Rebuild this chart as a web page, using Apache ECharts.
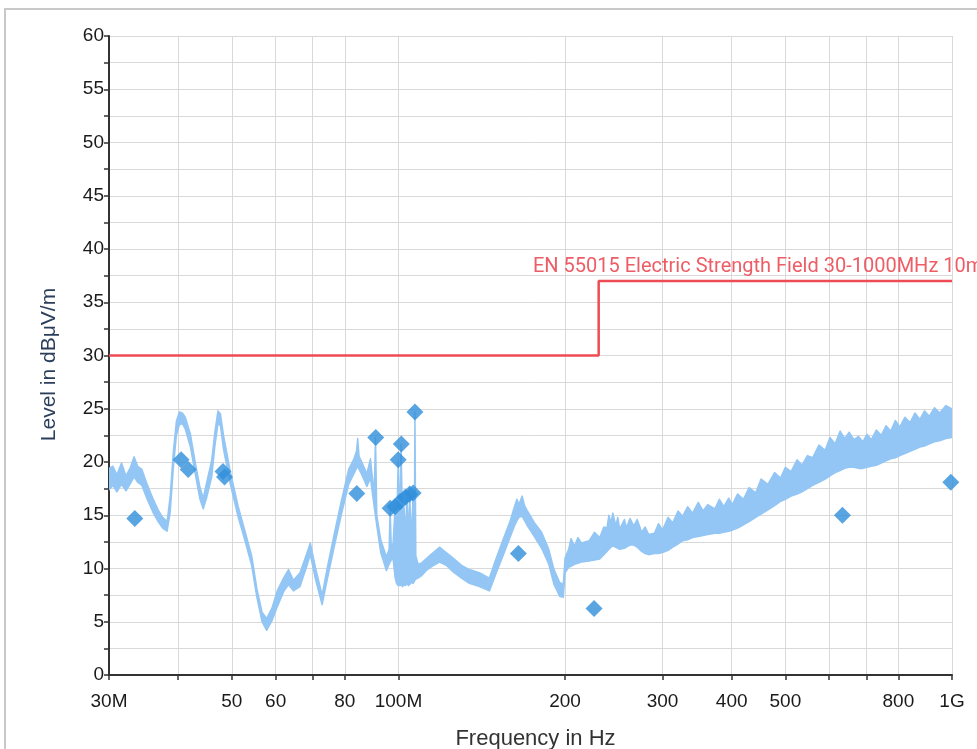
<!DOCTYPE html>
<html>
<head>
<meta charset="utf-8">
<script src="https://cdn.jsdelivr.net/npm/echarts@6/dist/echarts.min.js"></script>
<style>
html,body{margin:0;padding:0;background:#fff;}
#chart{width:977px;height:749px;}
</style>
</head>
<body>
<div id="chart"></div>
<script>
// Measured trace (MHz) with lower / upper envelope in dBµV/m
var traceFreq = [30,30.5,31,31.6,32.2,32.8,33.3,33.8,34.4,35.1,36.0,36.8,37.5,38.2,38.7,39.2,39.7,40.2,40.7,41.2,42.1,42.9,43.8,44.4,45.0,46.0,46.6,47.2,47.7,48.3,49.7,51.3,52.7,54.3,55.5,56.7,57.8,59.1,60.4,62.0,63.3,64.6,66.4,68.3,69.3,70.8,72.8,74.4,76.6,78.9,81.3,83.1,84.0,84.4,84.9,85.7,87.7,89.0,90.4,90.9,91.4,92.9,95.1,96.2,96.6,97.1,97.8,98.6,99.2,99.9,100.5,101.1,101.7,102.3,102.9,103.6,104.2,104.8,105.5,106.3,106.8,107.1,107.5,108.5,110,112.2,115,118.6,122,125.4,130,134.3,140,146,150,154.5,159,162,163.7,165,167.3,169,171,176,181.4,186.9,191,195.5,198.5,
  200,203,205,208,211,214,221,226,231,235,238,240,242,244,247,249,251,256,258,262,266,270,275,279,283,290,295,300,307,313,320,326,333,340,348,355,362,373,380,387,395,401,410,420,430,442,452,465,478,490,500,512,525,536,548,560,575,590,602,615,628,640,652,665,678,690,702,715,730,745,760,775,790,805,822,840,857,875,892,910,930,950,975,1000];
var traceLow = [17.4,17.8,17.2,17.9,17.3,18.0,18.6,18.1,17.8,16.6,15.3,14.4,13.8,13.5,15.3,19.4,22.5,23.5,23.6,23.1,21.4,19.0,16.5,15.6,16.6,18.6,21.5,23.6,23.4,21.2,17.9,14.9,12.8,10.3,7.3,5.0,4.2,5.1,6.4,7.8,8.5,7.9,8.3,10.2,11.3,9.0,6.6,9.0,12.1,15.1,17.9,18.9,19.4,19.6,19.3,18.9,17.7,18.5,15.8,14.9,14.0,11.5,9.8,10.4,10.6,10.8,10.9,9.2,8.6,8.4,8.4,8.5,8.3,8.5,8.4,8.6,8.4,8.5,8.7,8.6,8.8,8.9,9.0,9.1,9.3,9.8,10.2,10.6,10.3,9.7,9.1,8.6,8.3,7.9,9.5,11.2,12.9,14.0,14.5,14.8,14.9,14.5,14.0,13.0,11.9,10.4,8.5,7.4,7.3,
  9.6,10.1,10.2,10.4,10.5,10.6,10.7,10.8,10.9,11.3,11.6,11.8,12.0,12.1,12.0,11.9,11.8,11.9,12.0,12.2,12.2,12.0,11.6,11.4,11.3,11.4,11.4,11.5,11.7,12.0,12.3,12.6,12.7,12.9,13.0,13.1,13.2,13.3,13.3,13.4,13.5,13.6,13.8,14.1,14.4,14.8,15.1,15.5,15.9,16.3,16.5,16.8,17.0,17.2,17.5,17.8,18.1,18.4,18.7,19.0,19.2,19.4,19.5,19.5,19.4,19.4,19.5,19.6,19.7,19.9,20.1,20.3,20.4,20.6,20.8,21.0,21.2,21.4,21.5,21.7,21.9,22.0,22.2,22.3];
var traceHigh = [19.4,19.6,18.8,19.9,18.7,19.5,20.5,19.6,19.3,18.0,16.6,15.5,14.8,14.4,16.8,20.9,23.8,24.7,24.6,24.2,22.6,20.1,17.6,16.6,18.0,20.2,22.8,24.8,24.5,22.5,19.1,15.9,13.7,11.2,8.1,5.9,5.3,6.3,7.9,9.1,9.9,8.9,9.6,11.4,12.4,10.1,7.5,10.1,13.3,16.4,19.3,20.3,21.0,22.2,20.5,20.1,18.9,20.3,17.0,22.3,15.0,12.7,11.1,11.8,15.6,11.8,12.4,15.8,13.5,20.1,14.0,21.7,14.5,16.0,13.2,16.7,13.0,17.0,12.5,17.1,12.0,24.7,11.2,10.4,10.5,10.9,11.4,12.0,11.5,11.0,10.3,9.9,9.6,9.1,10.9,12.7,14.4,15.8,16.5,16.0,16.8,15.9,15.4,14.3,13.4,11.8,9.9,8.7,8.5,
  11.0,11.8,12.8,12.1,12.9,12.4,12.6,13.4,12.9,13.9,13.8,15.0,14.3,15.2,14.0,14.8,13.7,14.6,13.8,14.7,14.0,14.6,13.4,13.9,13.2,13.3,14.2,13.6,14.8,14.3,15.4,14.9,15.8,15.2,16.2,15.4,16.0,15.6,16.5,15.8,16.6,16.0,17.0,16.5,17.6,17.1,18.4,17.9,19.0,18.5,19.5,19.1,20.2,19.7,20.6,20.4,21.6,21.1,22.3,21.7,22.9,22.2,22.8,22.1,22.4,21.9,22.6,22.1,23.0,22.5,23.4,22.9,23.9,23.3,24.2,23.7,24.6,24.0,24.8,24.3,25.1,24.6,25.3,25.0];

// Final measurement points (QP)
var peakFreq  = [33.4,40.5,41.7,48.2,48.5,84.1,91.0,96.6,98.6,99.9,100.7,101.2,102.9,104.8,106.3,107.1,164.7,225.6,634,995];
var peakLevel = [14.7,20.2,19.3,19.1,18.6,17.05,22.3,15.65,15.8,20.2,16.3,21.7,16.7,17.0,17.1,24.7,11.4,6.25,15.0,18.1];

// Limit line EN 55015
var limitFreq  = [30,230,230,1000];
var limitLevel = [30,30,37,37];
var limitName = 'EN 55015 Electric Strength Field 30-1000MHz 10m';
var limitLabelAt = [175, 38.3];

// Axis ticks
var xTickValues  = [30,40,50,60,70,80,100,200,300,400,500,600,700,800,1000];
var xLabelValues = [30,50,60,80,100,200,300,400,500,800,1000];
var yMin = 0, yMax = 60, yStep = 5;

function pairs(xs, ys){ return xs.map(function(x,i){ return [x, ys[i]]; }); }

var chart = echarts.init(document.getElementById('chart'), null, {renderer:'canvas'});
var bandColor = '#93c6f4';
var FONT = "'Liberation Sans', Arial, sans-serif";

chart.setOption({
  animation:false,
  backgroundColor:'#fff',
  graphic:[{type:'rect', shape:{x:5,y:9,width:1000,height:800}, style:{fill:'none', stroke:'#c8c8c8', lineWidth:2}, z:-10}],
  grid:{left:109, right:25, top:36, bottom:74, containLabel:false, outerBoundsMode:'none'},
  xAxis:{
    type:'log', logBase:10, min:30, max:1000,
    name:'Frequency in Hz', nameLocation:'middle', nameGap:53,
    nameTextStyle:{fontSize:22, color:'#333', fontFamily:FONT, padding:[0,0,0,10]},
    axisLine:{lineStyle:{color:'#333', width:2}},
    axisTick:{customValues:xTickValues, length:5, lineStyle:{color:'#333', width:1.5}},
    axisLabel:{customValues:xLabelValues, fontSize:19, color:'#1a1a1a', margin:17,
      fontFamily:FONT,
      formatter:function(v){ v=Math.round(v); if(v===30) return '30M'; if(v===100) return '100M'; if(v===1000) return '1G'; return String(v);} },
    splitLine:{show:true, lineStyle:{color:'#d9d9d9', width:1}},
    minorTick:{show:false}, minorSplitLine:{show:false}
  },
  yAxis:{
    type:'value', min:yMin, max:yMax, interval:yStep,
    name:'Level in dBμV/m', nameLocation:'middle', nameGap:49,
    nameTextStyle:{fontSize:21, color:'#2b3f5c', fontFamily:FONT, padding:[0,18,0,0]},
    axisLine:{show:true, lineStyle:{color:'#333', width:2}},
    axisTick:{show:true, length:5, lineStyle:{color:'#333', width:1.5}},
    minorTick:{show:true, splitNumber:2, length:5, lineStyle:{color:'#333', width:1.5}},
    axisLabel:{fontSize:19, color:'#1a1a1a', margin:5, fontFamily:FONT},
    splitLine:{show:true, lineStyle:{color:'#d9d9d9', width:1}},
    minorSplitLine:{show:true, lineStyle:{color:'#d9d9d9', width:1}}
  },
  series:[
    {
      name:'trace', type:'custom', clip:true, z:2,
      data: traceFreq.map(function(f,i){ return [f, traceLow[i], traceHigh[i]]; }),
      encode:{x:0, y:[1,2]},
      renderItem:function(params, api){
        if (params.dataIndex !== 0) return null;
        var pts = [];
        for (var i=0;i<traceFreq.length;i++) pts.push(api.coord([traceFreq[i], traceHigh[i]]));
        for (var j=traceFreq.length-1;j>=0;j--) pts.push(api.coord([traceFreq[j], traceLow[j]]));
        return {type:'polygon', shape:{points:pts}, style:{fill:bandColor, stroke:bandColor, lineWidth:1.5, lineJoin:'round'}};
      }
    },
    {
      name:'limit', type:'line', data:pairs(limitFreq, limitLevel), symbol:'none', z:3,
      lineStyle:{color:'#ee4b55', width:2.5},
      markPoint:{
        symbol:'circle', symbolSize:0,
        data:[{coord:limitLabelAt}],
        label:{show:true, position:'right', distance:0, formatter:limitName, color:'#ee5d66', fontSize:20, fontFamily:'Roboto, sans-serif'}
      }
    },
    {
      name:'peaks', type:'scatter', data:pairs(peakFreq, peakLevel), symbol:'diamond', symbolSize:17, z:4,
      itemStyle:{color:'#2f8fdb'}
    }
  ]
});
</script>
</body>
</html>
